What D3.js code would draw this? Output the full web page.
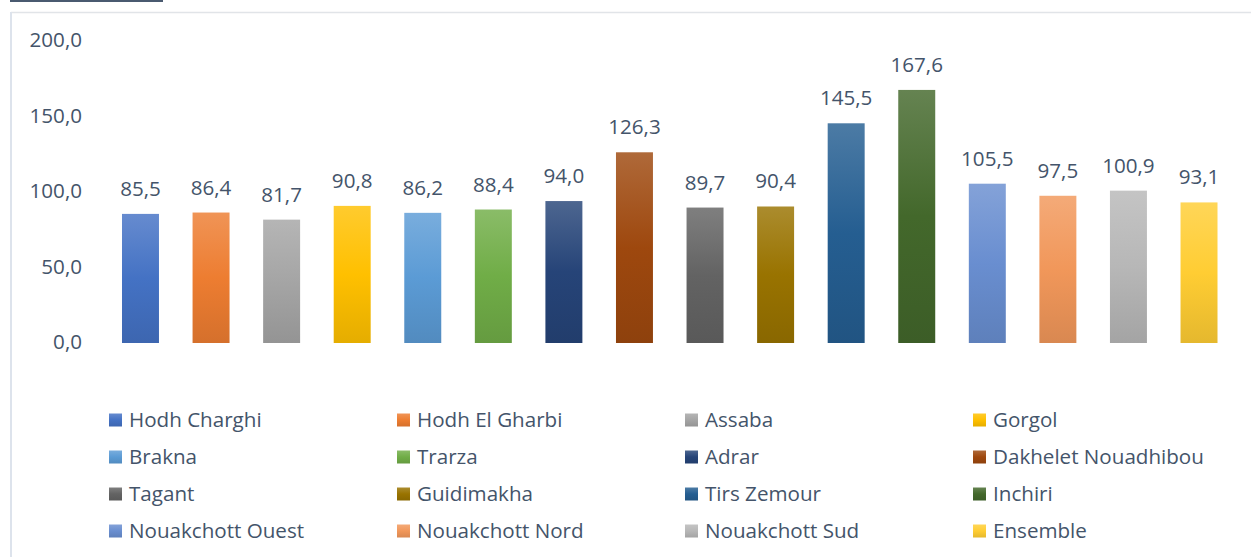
<!DOCTYPE html>
<html>
<head>
<meta charset="utf-8">
<script src="https://cdn.jsdelivr.net/npm/d3@7"></script>
<style>
  html, body { margin: 0; padding: 0; background: #fff; }
  svg { display: block; }
  text { font-family: "Open Sans", "Noto Sans", sans-serif; fill: #44546A; }
</style>
</head>
<body>
<svg id="chart" width="1251" height="557"></svg>
<script>
const categories = ["Hodh Charghi", "Hodh El Gharbi", "Assaba", "Gorgol", "Brakna", "Trarza", "Adrar",
  "Dakhelet Nouadhibou", "Tagant", "Guidimakha", "Tirs Zemour", "Inchiri", "Nouakchott Ouest",
  "Nouakchott Nord", "Nouakchott Sud", "Ensemble"];
const values = [85.5, 86.4, 81.7, 90.8, 86.2, 88.4, 94.0, 126.3, 89.7, 90.4, 145.5, 167.6, 105.5, 97.5, 100.9, 93.1];
const colors = ["#4472C4", "#ED7D31", "#A5A5A5", "#FFC000", "#5B9BD5", "#70AD47", "#264478", "#9E480E",
  "#636363", "#997300", "#255E91", "#43682B", "#698ED0", "#F1975A", "#B7B7B7", "#FFCD33"];
const yTicks = [0, 50, 100, 150, 200];

const fmt = v => v.toFixed(1).replace(".", ",");
const svg = d3.select("#chart");
const defs = svg.append("defs");
const FS = "20.6px";

// frame + cropped header underline
svg.append("rect").attr("x", 10).attr("y", 0).attr("width", 153).attr("height", 2).attr("fill", "#4a5a70");
svg.append("line").attr("x1", 11).attr("x2", 1251).attr("y1", 12.5).attr("y2", 12.5)
  .attr("stroke", "#e1e4e8").attr("stroke-width", 1.5);
svg.append("line").attr("x1", 11).attr("x2", 11).attr("y1", 12).attr("y2", 557)
  .attr("stroke", "#dde3ec").attr("stroke-width", 2);

const x = d3.scaleBand().domain(categories).range([105.2, 1234.3]).paddingInner(0.476).paddingOuter(0.238);
const y = d3.scaleLinear().domain([0, 200]).range([343, 41]);

categories.forEach((c, i) => {
  const base = d3.color(colors[i]);
  const g = defs.append("linearGradient").attr("id", "g" + i)
    .attr("x1", 0).attr("y1", 0).attr("x2", 0).attr("y2", 1);
  g.append("stop").attr("offset", "0%").attr("stop-color", d3.interpolateRgb(colors[i], "#ffffff")(0.18));
  g.append("stop").attr("offset", "50%").attr("stop-color", base.formatHex());
  g.append("stop").attr("offset", "100%").attr("stop-color", base.darker(0.3).formatHex());
});

// y axis labels
const yAxis = d3.axisLeft(y).tickValues(yTicks).tickFormat(fmt).tickSize(0).tickPadding(0);
const ya = svg.append("g").attr("transform", "translate(82,-1)").call(yAxis);
ya.select(".domain").remove();
ya.selectAll("text").style("font-family", '"Open Sans", sans-serif').style("font-size", FS).attr("fill", "#44546A");

// bars
svg.append("g").selectAll("rect").data(categories).join("rect")
  .attr("x", c => x(c))
  .attr("width", x.bandwidth())
  .attr("y", (c, i) => y(values[i]))
  .attr("height", (c, i) => y(0) - y(values[i]))
  .attr("fill", (c, i) => `url(#g${i})`);

// value labels
svg.append("g").selectAll("text").data(categories).join("text")
  .attr("x", c => x(c) + x.bandwidth() / 2)
  .attr("y", (c, i) => y(values[i]) - 18)
  .attr("text-anchor", "middle")
  .style("font-size", FS)
  .text((c, i) => fmt(values[i]));

// legend
const legCols = [109, 397, 685, 973];
const legRows = [420, 457, 494, 531];
const leg = svg.append("g").selectAll("g").data(categories).join("g")
  .attr("transform", (c, i) => `translate(${legCols[i % 4]},${legRows[Math.floor(i / 4)]})`);
leg.append("rect").attr("x", 0).attr("y", -6.5).attr("width", 13).attr("height", 13)
  .attr("fill", (c, i) => `url(#g${i})`);
leg.append("text").attr("x", 20).attr("y", 7).style("font-size", FS).text(c => c);
</script>
</body>
</html>
